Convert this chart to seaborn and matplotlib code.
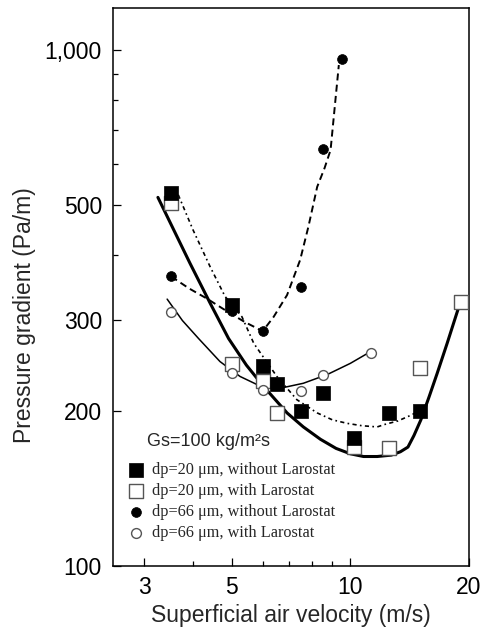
import matplotlib
matplotlib.use("Agg")
import matplotlib.pyplot as plt
import seaborn as sns
from matplotlib.ticker import FixedLocator, FixedFormatter, NullFormatter

# ---------------- data ----------------
# dp=20 um, without Larostat (filled squares)
sq_fill_x = [3.5, 5.0, 6.0, 6.5, 7.5, 8.5, 10.2, 12.5, 15.0]
sq_fill_y = [529, 320, 244, 225, 200, 216, 177, 198, 200]
# dp=20 um, with Larostat (open squares)
sq_open_x = [3.5, 5.0, 6.0, 6.5, 10.2, 12.5, 15.0, 19.1]
sq_open_y = [506, 246, 228, 198, 170, 169, 242, 325]
# dp=66 um, without Larostat (filled circles)
ci_fill_x = [3.5, 5.0, 6.0, 7.5, 8.5, 9.5]
ci_fill_y = [364, 312, 286, 348, 643, 959]
# dp=66 um, with Larostat (open circles)
ci_open_x = [3.5, 5.0, 6.0, 7.5, 8.5, 11.3]
ci_open_y = [310, 237, 219, 218, 235, 259]

# trend curves
thick_x = [3.25, 3.92, 4.41, 4.91, 5.45, 6.02, 6.91, 7.6, 8.40, 9.2, 10.0, 10.8,
           11.7, 12.7, 13.4, 14.0, 14.5, 15.1, 15.85, 16.6, 17.6, 18.9]
thick_y = [518, 386, 323, 276, 245, 223, 198, 186, 176, 169, 165, 163,
           163, 164, 166.5, 170, 179, 192, 213, 236, 270, 320]
dashdot_x = [3.66, 3.99, 4.41, 4.81, 5.31, 5.69, 6.51, 7.32, 8.24, 9.0, 9.81, 10.7,
             11.7, 12.2, 13.2, 14.25, 15.0]
dashdot_y = [524, 448, 380, 333, 304, 270, 233, 210, 198, 192, 189, 187,
             186, 188, 191, 196, 200]
dashed_x = [3.51, 3.9, 4.32, 4.95, 5.4, 5.69, 5.99, 6.39, 6.91, 7.46, 7.83, 8.24,
            8.6, 8.91, 9.08, 9.35]
dashed_y = [364, 345, 330, 309, 297, 291, 285, 304, 335, 392, 455, 543,
            590, 640, 743, 935]
thin_x = [3.43, 3.75, 4.12, 4.67, 5.25, 5.92, 6.63, 7.60, 8.74, 10.0, 11.13]
thin_y = [329, 299, 276, 249, 233, 223, 221, 226, 235, 247, 259]

x_ticks = [3, 5, 10, 20]
x_tick_labels = ["3", "5", "10", "20"]
x_minor = [4, 6, 7, 8, 9]
y_ticks = [100, 200, 300, 500, 1000]
y_tick_labels = ["100", "200", "300", "500", "1,000"]
y_minor = [400, 600, 700, 800, 900]

labels = ["dp=20 \u03bcm, without Larostat", "dp=20 \u03bcm, with Larostat",
          "dp=66 \u03bcm, without Larostat", "dp=66 \u03bcm, with Larostat"]

# ---------------- style ----------------
sns.set_style("ticks")
plt.rcParams["font.family"] = ["Liberation Sans", "DejaVu Sans"]

fig = plt.figure(figsize=(4.83, 6.31), dpi=100)
ax = fig.add_axes([113 / 483, 1 - 566 / 631, (469 - 113) / 483, (566 - 8) / 631])
ax.set_xscale("log")
ax.set_yscale("log")

# curves
sns.lineplot(x=thick_x, y=thick_y, ax=ax, sort=False, estimator=None, color="black", linewidth=2.2, zorder=2)
ax.lines[-1].set_solid_joinstyle("round")
sns.lineplot(x=dashdot_x, y=dashdot_y, ax=ax, sort=False, estimator=None, color="black", linewidth=1.2, zorder=2)
ax.lines[-1].set_linestyle((0, (2.5, 2.0, 1.0, 2.0)))
sns.lineplot(x=dashed_x, y=dashed_y, ax=ax, sort=False, estimator=None, color="black", linewidth=1.4, zorder=2)
ax.lines[-1].set_linestyle((0, (3.6, 2.2)))
sns.lineplot(x=thin_x, y=thin_y, ax=ax, sort=False, estimator=None, color="black", linewidth=1.1, zorder=2)
ax.lines[-1].set_solid_joinstyle("round")

# markers
sns.scatterplot(x=sq_open_x, y=sq_open_y, ax=ax, marker="s", s=100, color="white",
                edgecolor="#555555", linewidth=1.0, zorder=3, label=labels[1])
sns.scatterplot(x=ci_open_x, y=ci_open_y, ax=ax, marker="o", s=50, color="white",
                edgecolor="#555555", linewidth=1.0, zorder=3, label=labels[3])
sns.scatterplot(x=ci_fill_x, y=ci_fill_y, ax=ax, marker="o", s=50, color="black",
                edgecolor="black", linewidth=0.5, zorder=4, label=labels[2])
sns.scatterplot(x=sq_fill_x, y=sq_fill_y, ax=ax, marker="s", s=100, color="black",
                edgecolor="black", linewidth=0.5, zorder=5, label=labels[0])

ax.set_xlim(2.5, 20)
ax.set_ylim(100, 1206)

ax.xaxis.set_major_locator(FixedLocator(x_ticks))
ax.xaxis.set_major_formatter(FixedFormatter(x_tick_labels))
ax.xaxis.set_minor_locator(FixedLocator(x_minor))
ax.xaxis.set_minor_formatter(NullFormatter())
ax.yaxis.set_major_locator(FixedLocator(y_ticks))
ax.yaxis.set_major_formatter(FixedFormatter(y_tick_labels))
ax.yaxis.set_minor_locator(FixedLocator(y_minor))
ax.yaxis.set_minor_formatter(NullFormatter())

ax.tick_params(which="both", direction="in", colors="black", width=0.9)
ax.tick_params(which="major", length=6, labelsize=16.5)
ax.tick_params(which="minor", length=3.5)
ax.tick_params(axis="y", which="major", pad=8)
ax.tick_params(axis="x", which="major", pad=7.5)

for sp in ax.spines.values():
    sp.set_visible(True)
    sp.set_linewidth(1.1)
    sp.set_color("black")

ax.set_xlabel("Superficial air velocity (m/s)", fontsize=16.5, labelpad=3)
ax.set_ylabel("Pressure gradient (Pa/m)", fontsize=16.5)
ax.yaxis.set_label_coords(-0.215, 0.45)

ax.text(0.095, 0.215, "Gs=100 kg/m\u00b2s", transform=ax.transAxes, fontsize=13,
        ha="left", va="baseline")

handles, labs = ax.get_legend_handles_labels()
order = [labs.index(l) for l in labels]
leg = ax.legend([handles[i] for i in order], [labs[i] for i in order],
                loc="upper left", bbox_to_anchor=(0.042, 0.186), frameon=False,
                prop={"family": "Liberation Serif", "size": 11.7},
                handlelength=1.0, handletextpad=0.5, labelspacing=0.3,
                borderpad=0, borderaxespad=0, scatterpoints=1)

fig.savefig("out.png", dpi=100)
